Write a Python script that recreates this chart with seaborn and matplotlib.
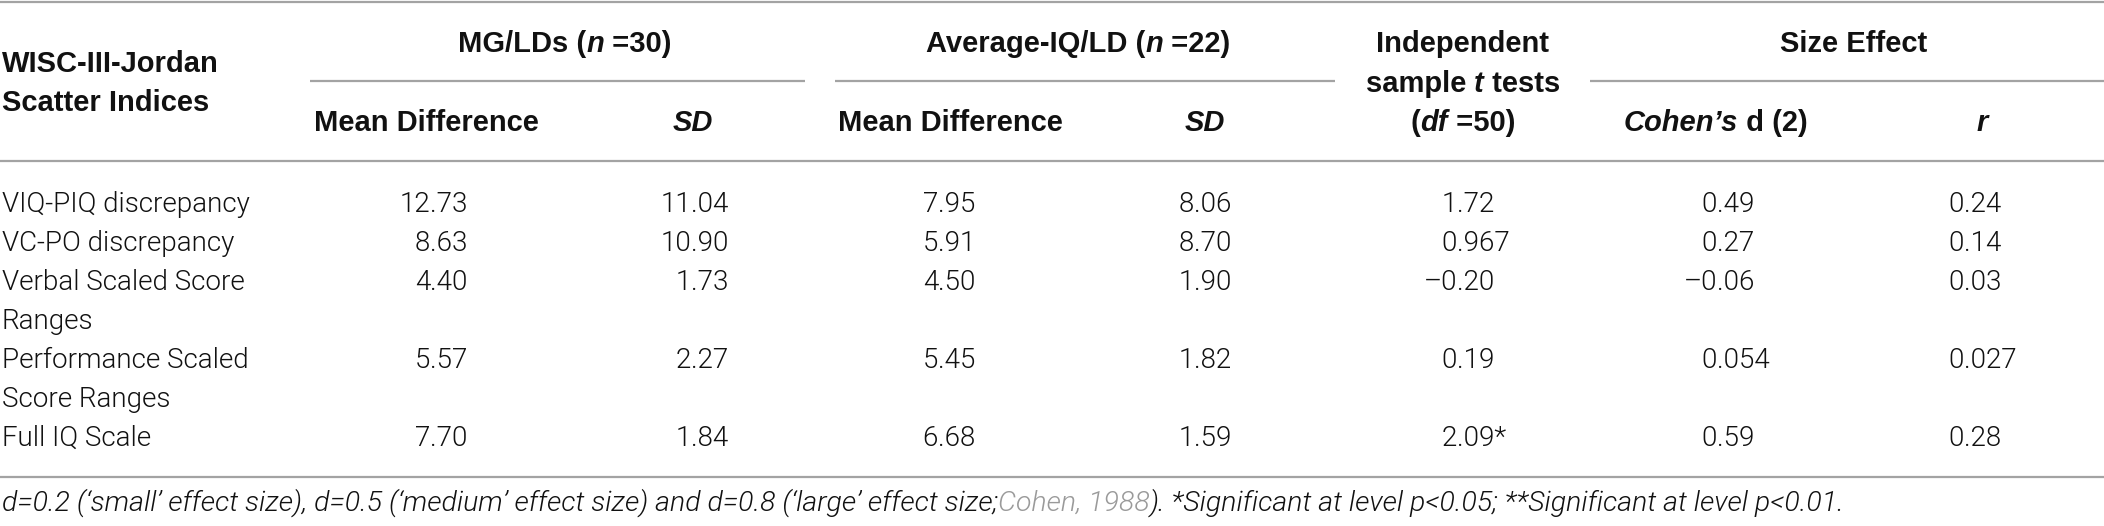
import matplotlib
matplotlib.use("Agg")
import matplotlib.pyplot as plt
from matplotlib import font_manager as fm
import seaborn as sns

# ---------------- data ----------------
indices = ["VIQ-PIQ discrepancy", "VC-PO discrepancy", "Verbal Scaled Score\nRanges",
           "Performance Scaled\nScore Ranges", "Full IQ Scale"]
mg_mean = ["12.73", "8.63", "4.40", "5.57", "7.70"]
mg_sd = ["11.04", "10.90", "1.73", "2.27", "1.84"]
avg_mean = ["7.95", "5.91", "4.50", "5.45", "6.68"]
avg_sd = ["8.06", "8.70", "1.90", "1.82", "1.59"]
t_vals = ["1.72", "0.967", "\u20130.20", "0.19", "2.09*"]
cohen_d = ["0.49", "0.27", "\u20130.06", "0.054", "0.59"]
r_vals = ["0.24", "0.14", "0.03", "0.027", "0.28"]
columns = [mg_mean, mg_sd, avg_mean, avg_sd, t_vals, cohen_d, r_vals]

# ---------------- fonts ----------------
sns.set_theme(style="white")
names = {(f.name, f.weight, f.style) for f in fm.fontManager.ttflist}
def has(fam, w, st="normal"):
    return any(n == fam and str(w) == str(wt) and s == st for n, wt, s in names)

BODY_FAM, BODY_W = "Liberation Sans", "normal"
for fam in ["Roboto", "Lato", "Open Sans", "Inter"]:
    if has(fam, 300):
        BODY_FAM, BODY_W = fam, 300
        break
IT_FAM, IT_W = BODY_FAM, BODY_W
if not has(IT_FAM, IT_W, "italic"):
    IT_FAM, IT_W = "Liberation Sans", "normal"
HEAD_FAM = "Liberation Sans"
plt.rcParams["font.family"] = [HEAD_FAM, "DejaVu Sans"]

FS = 20
HFS = 21
body = dict(family=[BODY_FAM, "DejaVu Sans"], weight=BODY_W, fontsize=FS, color="#111111")
head = dict(family=[HEAD_FAM, "DejaVu Sans"], weight="bold", fontsize=HFS, color="#111111")
head_it = dict(head, style="italic")
foot = dict(family=[IT_FAM, "DejaVu Sans"], weight=IT_W, style="italic", fontsize=FS, color="#111111")

# ---------------- figure ----------------
W, H = 2104, 526
fig = plt.figure(figsize=(W / 100, H / 100), dpi=100)
ax = fig.add_axes([0, 0, 1, 1])
ax.set_xlim(0, W)
ax.set_ylim(H, 0)
ax.axis("off")
renderer = fig.canvas.get_renderer()

def twidth(s, style):
    t1 = ax.text(0, 0, "|" + s + "|", **style)
    w1 = t1.get_window_extent(renderer).width
    t1.remove()
    t2 = ax.text(0, 0, "||", **style)
    w2 = t2.get_window_extent(renderer).width
    t2.remove()
    return w1 - w2

def runs(x, y, parts, ha="center", fit=None):
    widths = [twidth(s, st) for s, st in parts]
    if fit is not None:
        k = fit / sum(widths)
        parts = [(s, dict(st, fontsize=st["fontsize"] * k)) for s, st in parts]
        widths = [twidth(s, st) for s, st in parts]
    x0 = x - sum(widths) / 2 if ha == "center" else x
    for (s, st), w in zip(parts, widths):
        ax.text(x0, y, s, ha="left", va="baseline", **st)
        x0 += w

# rules
RULE = "#a3a3a3"
LW = 1.6
ax.hlines([1.5, 161, 477], 0, W, color=RULE, lw=LW)
ax.hlines([81, 81, 81], [310, 835, 1590], [805, 1335, W], color=RULE, lw=LW)

# header
LX = 2
ax.text(LX, 72, "WISC-III-Jordan", ha="left", va="baseline", **head)
ax.text(LX, 111, "Scatter Indices", ha="left", va="baseline", **head)
runs(565, 52, [("MG/LDs (", head), ("n", head_it), (" =30)", head)])
runs(1078, 52, [("Average-IQ/LD (", head), ("n", head_it), (" =22)", head)])
runs(1463, 52, [("Independent", head)])
runs(1463, 92, [("sample ", head), ("t", head_it), (" tests", head)])
runs(1463, 131, [("(", head), ("df", head_it), (" =50)", head)])
runs(1854, 52, [("Size Effect", head)])
runs(426, 131, [("Mean Difference", head)])
runs(693, 131, [("SD", head_it)])
runs(950, 131, [("Mean Difference", head)])
runs(1205, 131, [("SD", head_it)])
runs(1716, 131, [("Cohen\u2019s", head_it), (" d (2)", head)])
runs(1982, 131, [("r", head_it)])

# body
dec_x = [430, 691, 938, 1194, 1457, 1717, 1964]
y = 212
STEP = 39
for i, lab in enumerate(indices):
    lines = lab.split("\n")
    for k, ln in enumerate(lines):
        ax.text(LX, y + k * STEP, ln, ha="left", va="baseline", **body)
    for col, xd in zip(columns, dec_x):
        s = col[i]
        ip, fp = s.split(".", 1)
        ax.text(xd, y, ip, ha="right", va="baseline", **body)
        ax.text(xd, y, "." + fp, ha="left", va="baseline", **body)
    y += STEP * len(lines)

# footnote
foot_gray = dict(foot, color="#9a9a9a")
runs(LX, 511, [
    ("d=0.2 (\u2018small\u2019 effect size), d=0.5 (\u2018medium\u2019 effect size) and d=0.8 "
     "(\u2018large\u2019 effect size;", foot),
    ("Cohen, 1988", foot_gray),
    ("). *Significant at level p<0.05; **Significant at level p<0.01.", foot),
], ha="left", fit=1836)

fig.savefig("out.png", dpi=100, facecolor="white")
